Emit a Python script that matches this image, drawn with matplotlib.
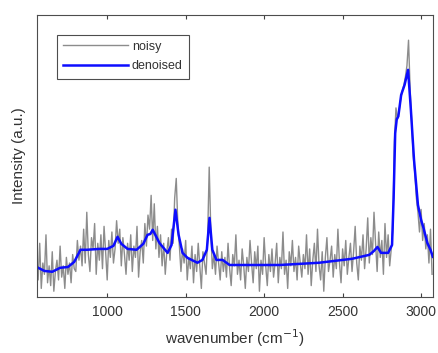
import matplotlib
matplotlib.use("Agg")
import matplotlib.pyplot as plt
import numpy as np

plt.rcParams['font.family'] = ['Liberation Sans', 'DejaVu Sans']

# denoised spectrum
den_x = [550, 600, 650, 700, 750, 790, 830, 870, 950, 1000, 1040, 1066, 1090,
         1130, 1187, 1230, 1257, 1275, 1290, 1310, 1333, 1385, 1410, 1435, 1455,
         1480, 1512, 1575, 1607, 1635, 1652, 1670, 1696, 1735, 1780, 2100, 2350,
         2560, 2670, 2700, 2722, 2745, 2790, 2815, 2825, 2835, 2845, 2855, 2873,
         2895, 2917, 2935, 2955, 2980, 3000, 3015, 3040, 3060, 3075]
den_y = [10.6, 9.2, 8.9, 10.3, 10.6, 12.4, 16.7, 16.7, 17.0, 17.0, 18.1, 21.3, 18.8,
         17.0, 16.7, 18.8, 22.0, 22.3, 23.8, 21.6, 19.1, 15.6, 18.4, 30.9, 22.0,
         15.6, 13.8, 12.1, 13.1, 16.7, 28.0, 16.7, 13.1, 13.1, 11.3, 11.3, 12.1,
         13.5, 14.9, 16.3, 17.7, 15.6, 15.6, 18.4, 35.0, 58.0, 63.0, 64.0, 71.6,
         75.2, 80.5, 66.3, 48.6, 32.6, 27.3, 24.5, 19.1, 16.7, 14.2]

# noisy spectrum, 10 cm^-1 steps from 550 to 3070
noisy_x = list(range(550, 3071, 10))
noisy_y = [
    14, 6, 19, 3, 12, 8, 22, 5, 11, 4,
    16, 2, 9, 13, 6, 18, 7, 11, 3, 14,
    8, 12, 5, 15, 10, 9, 20, 13, 18, 11,
    24, 12, 30, 15, 9, 21, 17, 26, 8, 19,
    13, 22, 10, 25, 16, 6, 20, 14, 23, 12,
    17, 27, 19, 24, 11, 21, 15, 8, 19, 13,
    22, 9, 18, 14, 25, 7, 16, 20, 12, 26,
    18, 29, 24, 36, 20, 33, 17, 25, 14, 22,
    11, 19, 8, 16, 21, 13, 24, 19, 35, 42,
    26, 18, 9, 17, 12, 20, 6, 14, 10, 18,
    5, 15, 9, 19, 11, 3, 16, 12, 8, 21,
    46, 24, 10, 15, 8, 18, 12, 6, 16, 9,
    14, 7, 19, 10, 4, 15, 11, 22, 8, 13,
    6, 17, 11, 3, 14, 9, 20, 12, 5, 16,
    10, 18, 2, 13, 8, 21, 11, 4, 15, 9,
    17, 7, 12, 19, 5, 14, 10, 23, 8, 13,
    3, 16, 11, 20, 9, 14, 6, 18, 12, 7,
    15, 10, 22, 8, 17, 4, 13, 19, 9, 24,
    11, 6, 16, 2, 14, 21, 9, 13, 18, 7,
    15, 10, 24, 12, 5, 17, 11, 20, 8, 14,
    19, 9, 16, 25, 12, 6, 18, 13, 22, 10,
    17, 28, 12, 21, 15, 30, 19, 9, 23, 14,
    20, 8, 26, 14, 22, 11, 17, 24, 55, 67,
    63, 66, 70, 73, 75, 78, 82, 91, 74, 62,
    50, 44, 35, 30, 23, 31, 20, 26, 17, 22,
    12, 24, 8]

xticks = [1000, 1500, 2000, 2500, 3000]

fig = plt.figure(figsize=(4.39, 3.53), dpi=100)
ax = fig.add_axes([0.084, 0.159, 0.902, 0.799])

ax.plot(noisy_x, noisy_y, color=(0.55, 0.55, 0.55), lw=1.0, label='noisy')
ax.plot(den_x, den_y, color=(0.05, 0.05, 1.0), lw=1.8, label='denoised')

ax.set_xlim(552, 3075)
ax.set_ylim(0, 100)
ax.set_xticks(xticks)
ax.set_yticks([])
ax.tick_params(axis='x', direction='in', top=True, length=3, labelsize=10,
               color=(0.25, 0.25, 0.25), labelcolor=(0.2, 0.2, 0.2), pad=6)
for s in ax.spines.values():
    s.set_color((0.3, 0.3, 0.3))
    s.set_linewidth(0.8)

ax.set_xlabel('wavenumber (cm$^{-1}$)', fontsize=11, color=(0.2, 0.2, 0.2), labelpad=6)
ax.set_ylabel('Intensity (a.u.)', fontsize=11, color=(0.2, 0.2, 0.2), labelpad=8)

leg = ax.legend(loc='upper left', bbox_to_anchor=(0.05, 0.93), borderaxespad=0,
                fontsize=9, handlelength=5.2, labelspacing=0.6, handletextpad=0.3,
                fancybox=False, framealpha=1, edgecolor=(0.3, 0.3, 0.3),
                borderpad=0.5)
leg.get_frame().set_linewidth(0.8)
for t in leg.get_texts():
    t.set_color((0.2, 0.2, 0.2))

fig.savefig('out.png', dpi=100)
